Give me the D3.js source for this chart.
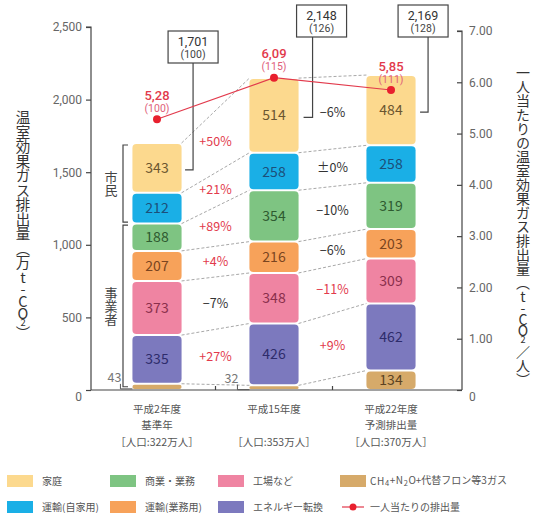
<!DOCTYPE html>
<html><head><meta charset="utf-8">
<script src="https://cdn.jsdelivr.net/npm/d3@7"></script>
<style>
body{margin:0;background:#fff}
svg{font-family:"Noto Sans CJK JP","Noto Sans",sans-serif}
.num{font-family:Roboto,"Liberation Sans",sans-serif}
</style>
</head><body>
<svg id="chart" width="537" height="517"></svg>
<script>
// ---------- data ----------
const categories = ["平成2年度", "平成15年度", "平成22年度"];
const categoryNotes = ["基準年", "", "予測排出量"];
const populations = ["［人口:322万人］", "［人口:353万人］", "［人口:370万人］"];

// stacked series, bottom to top
const seriesNames = ["CH4+N2O+代替フロン等3ガス", "エネルギー転換", "工場など", "運輸(業務用)", "商業・業務", "運輸(自家用)", "家庭"];
const gasValues        = [43, 32, 134];
const energyValues     = [335, 426, 462];
const factoryValues    = [373, 348, 309];
const transBizValues   = [207, 216, 203];
const commercialValues = [188, 354, 319];
const transPrivValues  = [212, 258, 258];
const homeValues       = [343, 514, 484];
const seriesValues = [gasValues, energyValues, factoryValues, transBizValues, commercialValues, transPrivValues, homeValues];

const totals = ["1,701", "2,148", "2,169"];
const totalIndex = ["(100)", "(126)", "(128)"];

const perCapita = [5.28, 6.09, 5.85];
const perCapitaLabels = ["5,28", "6,09", "5,85"];
const perCapitaIndex = ["(100)", "(115)", "(111)"];

// change labels per series (bottom to top)
const changeFirst  = [null, "+27%", "−7%", "+4%", "+89%", "+21%", "+50%"];
const changeFirstRed  = [false, true, false, true, true, true, true];
const changeSecond = [null, "+9%", "−11%", "−6%", "−10%", "±0%", "−6%"];
const changeSecondRed = [false, true, true, false, false, false, false];

const leftTicks = [0, 500, 1000, 1500, 2000, 2500];
const rightTicks = [0, 1, 2, 3, 4, 5, 6, 7];

// ---------- styles ----------
const fills = ["#D6AA6A", "#7C79BE", "#EF84A2", "#F7A25A", "#7EC482", "#1AAFE6", "#FCD98E"];
const inks  = ["#5a4222", "#2e2c6b", "#8a2f4c", "#7a4520", "#2e5a30", "#1c4f7a", "#6b5630"];
const RED = "#e23a4c";

const svg = d3.select("#chart");
const y = d3.scaleLinear().domain([0, 2500]).range([390, 27]);
const y2 = d3.scaleLinear().domain([0, 7]).range([390, 31]);
const x = d3.scaleBand().domain(categories).range([98.5, 449.5]).paddingInner(0.58).paddingOuter(0.29);
const bw = x.bandwidth();

const rows = categories.map((c, j) => {
  const r = {cat: c};
  seriesNames.forEach((n, i) => r[n] = seriesValues[i][j]);
  return r;
});
const stacked = d3.stack().keys(seriesNames)(rows);

// ---------- axes ----------
const axisColor = "#444";
const gL = svg.append("g").attr("transform", "translate(91,0)")
  .call(d3.axisLeft(y).tickValues(leftTicks).tickFormat(d3.format(",")).tickSize(5).tickPadding(4));
const gR = svg.append("g").attr("transform", "translate(462,0)")
  .call(d3.axisRight(y2).tickValues(rightTicks).tickFormat(d => d === 0 ? "0" : d3.format(".2f")(d)).tickSizeInner(-5).tickSizeOuter(0).tickPadding(7));
[gL, gR].forEach(g => {
  g.select(".domain").attr("stroke", axisColor).attr("stroke-width", 1.2);
  g.selectAll(".tick line").attr("stroke", axisColor).attr("stroke-width", 1.2);
  g.selectAll(".tick text").attr("fill", "#666").attr("font-size", 12).attr("font-family", "Roboto, 'Noto Sans', sans-serif");
});
gL.select(".domain").attr("d", "M-5," + y(2500) + "H0V" + y(0));
gL.selectAll(".tick").filter(d => d === 0).select("text").attr("dy", "0.9em");
gR.selectAll(".tick").filter(d => d === 0).select("text").attr("dy", "0.9em");
gR.select(".domain").attr("d", "M-5," + y2(7) + "H0V" + y2(0));

// bottom axis line
const midTicks = [0, 1].map(j => (x(categories[j]) + bw + x(categories[j + 1])) / 2);
svg.append("line").attr("x1", 91).attr("x2", 462).attr("y1", y(0)).attr("y2", y(0))
  .attr("stroke", axisColor).attr("stroke-width", 1.2);
svg.selectAll(".xt").data(midTicks).join("line")
  .attr("x1", d => d).attr("x2", d => d).attr("y1", y(0)).attr("y2", y(0) - 4)
  .attr("stroke", axisColor).attr("stroke-width", 1.2);

// axis titles (vertical)
function vText(xx, yy, size, parts) {
  const t = svg.append("text").attr("x", xx).attr("y", yy)
    .attr("text-anchor", "middle").attr("font-size", size).attr("fill", "#333")
    .style("writing-mode", "vertical-rl").style("text-orientation", "upright");
  parts.forEach(p => {
    const s = t.append("tspan").text(p.t);
    if (p.small) s.attr("font-size", size * 0.65);
    if (p.latin) s.style("letter-spacing", (-size * 0.18) + "px");
  });
  return t;
}
vText(23, 226, 14.5, [{t: "温室効果ガス排出量（万"}, {t: "t-CO", latin: true}, {t: "2", small: true}, {t: "）"}]);
vText(523, 226, 14, [{t: "一人当たりの温室効果ガス排出量（"}, {t: "t-CO", latin: true}, {t: "2", small: true}, {t: "／人）"}]);

// ---------- connecting dashed lines ----------
stacked.forEach(layer => {
  [0, 1].forEach(j => {
    svg.append("line")
      .attr("x1", x(categories[j]) + bw).attr("y1", y(layer[j][1]))
      .attr("x2", x(categories[j + 1])).attr("y2", y(layer[j + 1][1]))
      .attr("stroke", "#a8a8a8").attr("stroke-width", 1).attr("stroke-dasharray", "3,2");
  });
});

// ---------- bars ----------
stacked.forEach((layer, i) => {
  const g = svg.append("g");
  g.selectAll("rect").data(layer).join("rect")
    .attr("x", d => x(d.data.cat))
    .attr("y", d => y(d[1]) + 1)
    .attr("width", bw)
    .attr("height", d => Math.max(1, y(d[0]) - y(d[1]) - 2))
    .attr("rx", d => Math.min(4, (y(d[0]) - y(d[1]) - 2) / 2))
    .attr("fill", fills[i]);
  layer.forEach((d, j) => {
    const h = y(d[0]) - y(d[1]);
    const v = d[1] - d[0];
    if (h > 14) {
      g.append("text").attr("x", x(d.data.cat) + bw / 2).attr("y", (y(d[0]) + y(d[1])) / 2)
        .attr("dy", "0.36em").attr("text-anchor", "middle").attr("font-size", 14)
        .attr("fill", inks[i]).text(v);
    } else {
      const bl = x(d.data.cat);
      const yb = (y(d[0]) + y(d[1])) / 2 + 1;
      g.append("text").attr("x", bl - 11).attr("y", yb - 10)
        .attr("dy", "0.36em").attr("text-anchor", "end").attr("font-size", 12.5)
        .attr("fill", "#777").text(v);
      g.append("path").attr("d", `M${bl - 12},${yb - 4}V${yb + 1}H${bl}`)
        .attr("fill", "none").attr("stroke", "#555").attr("stroke-width", 1);
    }
  });
});

// ---------- change labels ----------
function changeLabels(j, labels, reds) {
  const cx = (x(categories[j]) + bw + x(categories[j + 1])) / 2;
  stacked.forEach((layer, i) => {
    if (!labels[i]) return;
    const m1 = (y(layer[j][0]) + y(layer[j][1])) / 2;
    const m2 = (y(layer[j + 1][0]) + y(layer[j + 1][1])) / 2;
    svg.append("text").attr("x", cx).attr("y", (m1 + m2) / 2).attr("dy", "0.36em")
      .attr("text-anchor", "middle").attr("font-size", 12.5)
      .attr("fill", reds[i] ? RED : "#333").text(labels[i]);
  });
}
changeLabels(0, changeFirst, changeFirstRed);
changeLabels(1, changeSecond, changeSecondRed);

// ---------- 市民 / 事業者 brackets ----------
const citizenTop = stacked[6][0][1], citizenSplit = stacked[5][0][0], bizLow = stacked[1][0][0];
const bx = 123;
function bracket(y1, y2v, label) {
  svg.append("path").attr("d", `M${bx + 5},${y1}H${bx}V${y2v}H${bx + 5}`)
    .attr("fill", "none").attr("stroke", "#444").attr("stroke-width", 1.2);
  vText(111, (y1 + y2v) / 2, 13, [{t: label}]).attr("fill", "#444");
}
bracket(y(citizenTop) + 2, y(citizenSplit) - 1.5, "市民");
bracket(y(citizenSplit) + 1.5, y(bizLow) + 3, "事業者");

// ---------- totals boxes ----------
const boxLayout = [
  {cx: 11.5, top: 31, lx: 11.5, hook: 8},
  {cx: 23, top: 5, lx: 14, hook: 9},
  {cx: 7.5, top: 5, lx: 12.5, hook: 8}
];
categories.forEach((c, j) => {
  const L = boxLayout[j];
  const right = x(c) + bw;
  const cx = right + L.cx, lx = right + L.lx;
  const homeLayer = stacked[6][j];
  const hy = (y(homeLayer[0]) + y(homeLayer[1])) / 2 + 2;
  svg.append("path").attr("d", `M${lx},${L.top + 32}V${hy}H${lx - L.hook}`)
    .attr("fill", "none").attr("stroke", "#444").attr("stroke-width", 1.2);
  svg.append("rect").attr("x", cx - 25).attr("y", L.top).attr("width", 50).attr("height", 32)
    .attr("fill", "#fff").attr("stroke", "#444").attr("stroke-width", 1.2);
  svg.append("text").attr("class", "num").attr("x", cx).attr("y", L.top + 14.5).attr("text-anchor", "middle")
    .attr("font-size", 12.5).attr("fill", "#333").text(totals[j]);
  svg.append("text").attr("class", "num").attr("x", cx).attr("y", L.top + 27).attr("text-anchor", "middle")
    .attr("font-size", 10.5).attr("fill", "#444").text(totalIndex[j]);
});

// ---------- per-capita line ----------
const pts = categories.map((c, j) => [x(c) + bw / 2, y2(perCapita[j])]);
svg.append("path").attr("d", d3.line()(pts)).attr("fill", "none").attr("stroke", RED).attr("stroke-width", 1.2);
svg.selectAll(".dot").data(pts).join("circle")
  .attr("cx", d => d[0]).attr("cy", d => d[1]).attr("r", 4).attr("fill", "#e8202e");
pts.forEach((p, j) => {
  svg.append("text").attr("class", "num").attr("x", p[0]).attr("y", p[1] - 24).attr("dy", "0.36em")
    .attr("text-anchor", "middle").attr("font-size", 13).attr("font-weight", 500).attr("fill", RED).text(perCapitaLabels[j]);
  svg.append("text").attr("class", "num").attr("x", p[0]).attr("y", p[1] - 11).attr("dy", "0.36em")
    .attr("text-anchor", "middle").attr("font-size", 10.5).attr("fill", "#e0607a").text(perCapitaIndex[j]);
});

// ---------- category labels ----------
categories.forEach((c, j) => {
  const cx = x(c) + bw / 2;
  [c, categoryNotes[j], populations[j]].forEach((t, k) => {
    if (!t) return;
    svg.append("text").attr("x", cx).attr("y", 409 + k * 16.5).attr("dy", "0.36em")
      .attr("text-anchor", "middle").attr("font-size", 10.5).attr("fill", "#555").text(t);
  });
});

// ---------- legend ----------
const legendOrder = [[6, 4, 2, 0], [5, 3, 1, -1]];
const swX = [7, 110, 218, 340], txX = [42, 145, 253, 370], rowY = [481, 507];
legendOrder.forEach((row, r) => {
  row.forEach((si, c) => {
    if (si >= 0) {
      svg.append("rect").attr("x", swX[c]).attr("y", rowY[r] - 6).attr("width", 26).attr("height", 12).attr("fill", fills[si]);
      const t = svg.append("text").attr("x", txX[c]).attr("y", rowY[r]).attr("dy", "0.36em")
        .attr("font-size", 10).attr("fill", "#555");
      if (si === 0) {
        [["CH", 0], ["4", 1], ["+N", 0], ["2", 1], ["O+代替フロン等3ガス", 0]].forEach(([s, sub]) => {
          const ts = t.append("tspan").text(s);
          if (sub) ts.attr("font-size", 7.5).attr("dy", "0.2em");
          else ts.attr("dy", t.selectAll("tspan").size() > 1 ? "-0.2em" : null);
          if (!/[代]/.test(s)) ts.style("letter-spacing", "0.6px");
        });
      } else t.text(seriesNames[si]);
    } else {
      svg.append("line").attr("x1", 342).attr("x2", 364).attr("y1", rowY[r]).attr("y2", rowY[r])
        .attr("stroke", RED).attr("stroke-width", 1.2);
      svg.append("circle").attr("cx", 353).attr("cy", rowY[r]).attr("r", 3.5).attr("fill", "#e8202e");
      svg.append("text").attr("x", txX[c]).attr("y", rowY[r]).attr("dy", "0.36em")
        .attr("font-size", 10).attr("fill", "#555").text("一人当たりの排出量");
    }
  });
});
</script>
</body></html>
